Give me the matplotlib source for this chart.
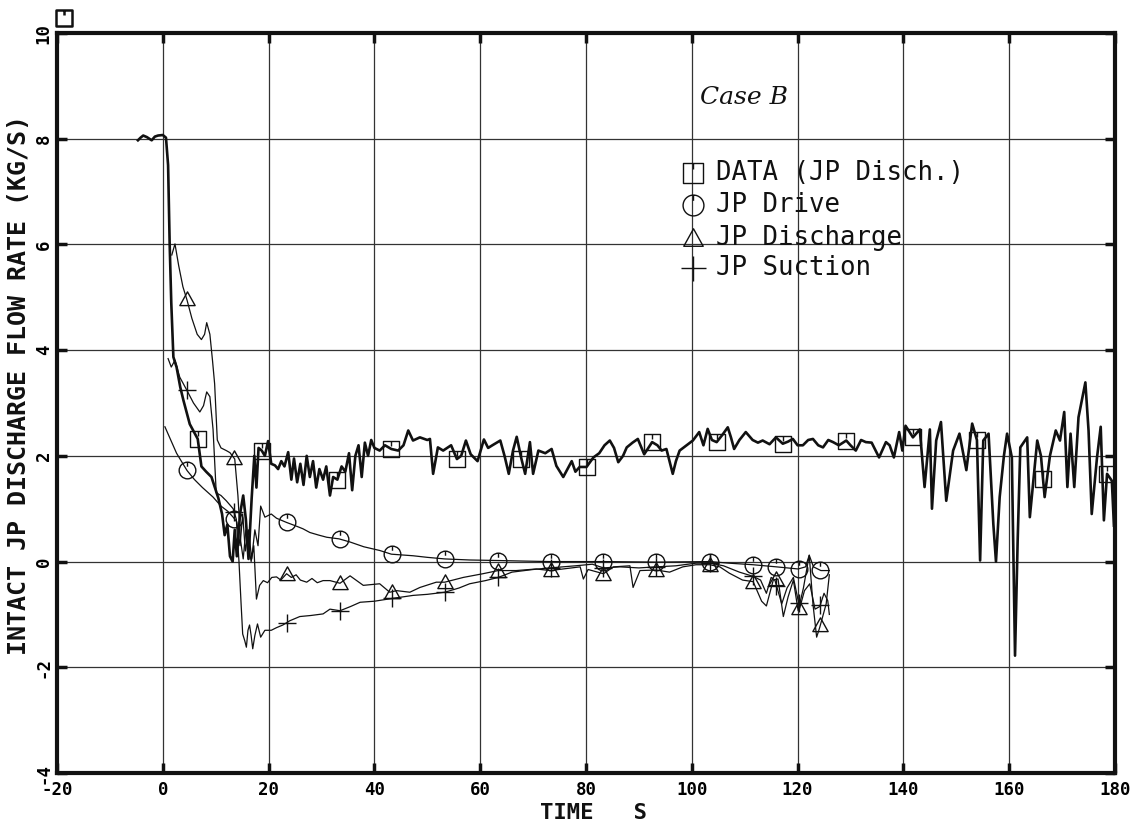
import numpy as np
import matplotlib
matplotlib.use("Agg")
import matplotlib.pyplot as plt
from matplotlib.path import Path

# ---- measured jet-pump discharge (thick line, square symbols) ----
data_t = [-4.7, -4.2, -3.7, -3.0, -2.1, -1.5, -0.9, 0.0, 0.6, 1.0, 1.3, 1.6, 2.0, 2.6, 3.3, 3.9, 5.1, 6.6,
          7.3, 8.2, 9.2, 10.5, 11.2, 11.7, 12.2, 12.7, 13.2, 13.6, 14.0, 14.6, 15.2, 15.7, 16.2, 16.8, 17.3,
          17.7, 18.1, 18.7, 19.3, 19.9, 20.5, 21.2, 21.8, 22.4, 23.0, 23.7, 24.3, 24.8, 25.4, 26.0, 26.6,
          27.2, 27.8, 28.4, 29.0, 29.6, 30.3, 30.9, 31.6, 32.2, 33.0, 33.8, 34.5, 35.2, 35.8, 36.4, 37.0,
          37.6, 38.2, 38.8, 39.4, 40.0, 41.0, 42.0, 43.2, 44.5, 45.5, 46.4, 47.3, 48.6, 50.0, 50.5, 51.1,
          52.0, 53.0, 54.5, 55.6, 56.4, 57.3, 58.2, 59.5, 60.7, 61.5, 62.3, 63.8, 64.6, 65.4, 66.2, 66.9,
          67.8, 68.5, 69.4, 70.0, 71.0, 72.3, 73.5, 74.4, 75.7, 76.5, 77.3, 78.0, 78.8, 80.1, 81.4, 82.5,
          83.5, 84.5, 85.3, 86.1, 87.0, 87.7, 88.8, 89.8, 91.0, 92.5, 93.5, 94.3, 95.2, 96.4, 97.0, 97.7,
          99.0, 100.2, 101.4, 102.2, 103.0, 103.8, 104.7, 105.8, 106.8, 107.4, 108.0, 109.0, 110.2, 111.5,
          112.5, 113.4, 114.7, 115.9, 117.2, 118.2, 119.1, 120.0, 121.0, 122.0, 122.9, 123.9, 124.8, 125.8,
          126.7, 127.8, 129.2, 130.0, 131.0, 132.0, 132.9, 134.0, 135.4, 136.7, 137.4, 138.2, 139.2, 139.8,
          140.4, 141.8, 143.1, 144.0, 145.0, 145.4, 146.2, 147.1, 148.1, 149.4, 150.6, 151.9, 153.0, 153.9,
          154.5, 155.1, 156.1, 157.0, 157.5, 158.2, 159.0, 159.6, 160.5, 161.1, 161.6, 162.1, 163.4, 163.9,
          165.3, 166.0, 166.7, 167.7, 168.8, 169.6, 170.4, 171.0, 171.6, 172.3, 173.1, 174.4, 175.0, 175.6,
          176.6, 177.3, 177.9, 178.5, 179.4, 179.8]
data_q = [7.97, 8.02, 8.06, 8.03, 7.97, 8.04, 8.06, 8.07, 8.02, 7.5, 6.0, 4.9, 3.87, 3.68, 3.3, 3.05, 2.6, 2.32,
          1.8, 1.7, 1.6, 1.2, 0.9, 0.5, 0.7, 0.1, 0.0, 0.6, 0.1, 0.9, 1.25, 0.8, 0.05, 1.2, 2.0,
          1.4, 2.15, 2.1, 2.0, 2.28, 1.85, 1.82, 1.75, 1.9, 1.8, 2.07, 1.55, 1.95, 1.5, 1.85, 1.45,
          2.0, 1.6, 1.9, 1.4, 1.75, 1.55, 1.8, 1.25, 1.6, 1.55, 1.8, 1.7, 2.05, 1.35, 2.0, 2.2,
          1.6, 2.25, 2.0, 2.3, 2.15, 2.1, 2.2, 2.13, 2.1, 2.2, 2.48, 2.29, 2.35, 2.3, 2.32, 1.66,
          2.16, 2.1, 2.2, 1.94, 2.0, 2.29, 2.03, 1.9, 2.31, 2.15, 2.2, 2.29, 2.0, 1.66, 2.1, 2.36,
          1.94, 1.66, 2.26, 1.66, 2.1, 2.05, 2.13, 1.81, 1.6, 1.75, 1.9, 1.7, 1.79, 1.79, 1.97, 2.05,
          2.2, 2.29, 2.15, 1.88, 2.0, 2.16, 2.25, 2.32, 2.03, 2.26, 2.2, 2.1, 2.13, 1.66, 1.9, 2.1,
          2.2, 2.29, 2.45, 2.2, 2.51, 2.3, 2.26, 2.4, 2.54, 2.35, 2.13, 2.3, 2.45, 2.3,
          2.25, 2.29, 2.22, 2.35, 2.23, 2.27, 2.32, 2.2, 2.2, 2.3, 2.32, 2.2, 2.16, 2.3,
          2.26, 2.2, 2.29, 2.2, 2.1, 2.3, 2.26, 2.25, 1.97, 2.26, 2.2, 1.97, 2.45, 2.1,
          2.57, 2.35, 2.5, 1.41, 2.5, 1.0, 2.29, 2.64, 1.15, 2.1, 2.42, 1.73, 2.61, 2.3,
          0.02, 2.29, 2.42, 0.71, 0.0, 1.22, 2.0, 2.42, 1.97, -1.78, 0.4, 2.16, 2.35, 0.84,
          2.29, 2.0, 1.22, 2.0, 2.48, 2.29, 2.83, 1.41, 2.42, 1.41, 2.73, 3.39, 2.48, 0.9,
          1.97, 2.55, 0.78, 1.66, 1.53, 0.68]
data_marks = [6.6, 18.7, 33.0, 43.2, 55.6, 67.8, 80.1, 92.5, 104.7, 117.2, 129.2, 141.8, 153.9, 166.4, 178.5]

# ---- calculated jet-pump drive flow (circles) ----
drive_t = [0.4, 1.5, 2.6, 3.5, 4.6, 6.0, 7.5, 9.5, 11.0, 12.3, 13.3, 14.0, 14.6, 15.1, 15.6, 16.2, 16.8,
           17.4, 18.0, 18.5, 19.3, 20.5, 21.5, 23.4, 25.0, 26.5, 27.8, 29.5, 31.0, 33.3, 35.4, 38.0, 41.0,
           43.2, 47.3, 50.0, 53.3, 58.0, 63.4, 68.0, 73.2, 83.3, 93.3, 103.4, 107.0, 111.6, 116.0, 120.1,
           121.5, 122.2, 123.0, 124.4, 126.0]
drive_q = [2.55, 2.3, 2.05, 1.9, 1.72, 1.55, 1.4, 1.22, 1.05, 0.95, 0.84, 0.75, 0.3, 0.9, 0.2, 0.6, 0.05,
           0.6, 0.3, 1.05, 0.84, 0.9, 0.82, 0.74, 0.68, 0.62, 0.55, 0.5, 0.46, 0.43, 0.37, 0.28, 0.21,
           0.14, 0.11, 0.08, 0.05, 0.03, 0.02, 0.01, 0.0, 0.0, -0.01, 0.0, -0.03, -0.06, -0.1, -0.14,
           -0.1, 0.12, -0.1, -0.17, -0.17]

# ---- calculated jet-pump discharge flow (triangles) ----
disch_t = [1.7, 2.3, 3.0, 3.8, 4.6, 5.5, 6.5, 7.3, 7.9, 8.3, 8.9, 9.4, 9.8, 10.3, 11.0, 12.0, 12.7, 13.6,
           14.2, 14.7, 15.2, 15.7, 16.2, 16.7, 17.2, 17.7, 18.3, 19.0, 19.8, 20.6, 21.5, 22.3, 23.4, 24.3,
           25.2, 26.0, 27.2, 28.2, 29.2, 30.3, 31.6, 33.5, 35.4, 37.9, 41.0, 42.9, 44.2, 46.7, 48.6, 51.7,
           53.3, 56.8, 60.5, 63.4, 66.8, 70.6, 73.2, 78.9, 79.5, 80.4, 83.3, 85.2, 88.3, 88.9, 90.2, 93.3,
           95.8, 98.3, 100.8, 103.4, 105.3, 107.1, 109.6, 111.6, 113.2, 114.1, 115.4, 116.3, 117.3, 118.2,
           119.2, 120.1, 121.1, 122.2, 122.9, 123.6, 124.2, 125.4, 126.0]
disch_q = [5.8, 6.01, 5.6, 5.2, 4.94, 4.6, 4.3, 4.2, 4.3, 4.52, 4.3, 3.8, 3.36, 2.3, 2.15, 2.1, 2.06, 1.94,
           1.25, 0.4, 0.05, 0.6, 0.3, 0.0, 0.3, -0.71, -0.45, -0.36, -0.4, -0.3, -0.29, -0.35, -0.23, -0.3,
           -0.25, -0.35, -0.39, -0.32, -0.4, -0.36, -0.36, -0.41, -0.27, -0.45, -0.42, -0.58, -0.55, -0.58,
           -0.49, -0.39, -0.39, -0.3, -0.23, -0.17, -0.17, -0.14, -0.17, -0.1, -0.33, -0.15, -0.23, -0.1,
           -0.08, -0.49, -0.17, -0.16, -0.2, -0.1, -0.06, -0.06, -0.1, -0.22, -0.35, -0.38, -0.75, -0.84,
           -0.35, -0.33, -1.04, -0.67, -0.35, -0.93, -0.5, 0.12, -0.8, -1.43, -1.24, -0.8, -0.25]

# ---- calculated jet-pump suction flow (plus signs) ----
suct_t = [1.0, 1.6, 2.3, 3.2, 4.5, 5.8, 7.0, 7.7, 8.3, 8.9, 9.5, 10.1, 11.0, 12.0, 13.3, 13.9, 14.4, 14.8,
          15.1, 15.5, 15.8, 16.1, 16.4, 16.7, 17.0, 17.4, 17.9, 18.5, 19.3, 20.5, 21.5, 22.7, 24.0, 25.9,
          28.0, 30.3, 31.6, 33.5, 35.5, 37.3, 40.0, 43.2, 47.3, 50.0, 53.3, 56.0, 58.0, 61.0, 63.4, 66.0,
          70.0, 73.2, 78.0, 81.2, 83.3, 86.4, 90.0, 93.3, 97.0, 100.8, 103.4, 106.0, 109.0, 111.6, 113.0,
          114.1, 115.0, 115.7, 117.0, 118.0, 119.2, 120.4, 121.3, 122.3, 123.3, 124.2, 125.0, 125.7, 126.0]
suct_q = [3.84, 3.68, 3.81, 3.49, 3.25, 3.0, 2.83, 2.95, 3.21, 3.12, 2.5, 1.3, 1.25, 1.15, 1.0, 0.8, 0.0, -0.8,
          -1.37, -1.5, -1.62, -1.3, -1.2, -1.4, -1.65, -1.4, -1.18, -1.43, -1.3, -1.3, -1.25, -1.2, -1.12, -1.04,
          -1.02, -0.99, -0.9, -0.93, -0.85, -0.77, -0.75, -0.7, -0.64, -0.62, -0.58, -0.5, -0.42, -0.36, -0.3, -0.2,
          -0.15, -0.12, -0.08, -0.05, -0.12, -0.1, -0.12, -0.1, -0.08, -0.03, -0.03, -0.08, -0.2, -0.28, -0.35,
          -0.6, -0.3, -0.35, -0.8, -0.5, -0.3, -0.88, -0.55, -0.42, -0.9, -0.85, -0.6, -0.74, -1.0]

calc_marks = [4.5, 13.5, 23.4, 33.5, 43.3, 53.3, 63.4, 73.3, 83.3, 93.3, 103.4, 111.6, 116.0, 120.2, 124.3]

x_ticks = [-20, 0, 20, 40, 60, 80, 100, 120, 140, 160, 180]
y_ticks = [-4, -2, 0, 2, 4, 6, 8, 10]

legend_labels = ["DATA (JP Disch.)", "JP Drive", "JP Discharge", "JP Suction"]

# plotter-style symbols: open shapes with a short stroke from the top
def notched(base, notch_len=0.55):
    tick = Path([(0, 1.0), (0, 1.0 - notch_len)], [Path.MOVETO, Path.LINETO])
    return Path.make_compound_path(base, tick)

square_sym = notched(Path([(-1, -1), (1, -1), (1, 1), (-1, 1), (-1, -1)],
                          [Path.MOVETO, Path.LINETO, Path.LINETO, Path.LINETO, Path.CLOSEPOLY]))
circle_sym = notched(Path.unit_circle())
tri_sym = Path([(-1, -0.8), (1, -0.8), (0, 1), (-1, -0.8)],
               [Path.MOVETO, Path.LINETO, Path.LINETO, Path.CLOSEPOLY])

W, H = 1134, 825
fig = plt.figure(figsize=(W / 100, H / 100), dpi=100)
L, R, T, B = 57, 1115, 33, 773
ax = fig.add_axes([L / W, 1 - B / H, (R - L) / W, (B - T) / H])

ink = "#111111"
ax.plot(data_t, data_q, color=ink, lw=1.9, zorder=3)
for t, q in ((drive_t, drive_q), (disch_t, disch_q), (suct_t, suct_q)):
    ax.plot(t, q, color=ink, lw=0.9, zorder=3)

sym_kw = dict(ls="none", mfc="none", mec=ink, mew=1.0, zorder=4)
ax.plot(data_marks, np.interp(data_marks, data_t, data_q), marker=square_sym, ms=11, **sym_kw)
ax.plot(calc_marks, np.interp(calc_marks, drive_t, drive_q), marker=circle_sym, ms=12, **sym_kw)
ax.plot(calc_marks, np.interp(calc_marks, disch_t, disch_q), marker=tri_sym, ms=11, **sym_kw)
ax.plot(calc_marks, np.interp(calc_marks, suct_t, suct_q), marker="+", ms=13, ls="none",
        mec=ink, mew=1.0, zorder=4)

ax.set_xlim(-20, 180)
ax.set_ylim(-4, 10)
ax.set_xticks(x_ticks)
ax.set_yticks(y_ticks)
tick_font = dict(family="DejaVu Sans Mono", weight="bold", size=12.5)
ax.set_xticklabels([str(v) for v in x_ticks], fontdict=tick_font)
ax.set_yticklabels([str(v) for v in y_ticks], fontdict=tick_font, rotation=90, va="center")
ax.tick_params(direction="in", length=7, width=2.5, top=True, right=True, color=ink)
ax.tick_params(axis="x", pad=6)
ax.tick_params(axis="y", pad=3)
ax.grid(True, color="#333333", lw=0.9)
for sp in ax.spines.values():
    sp.set_linewidth(3.0)
    sp.set_color(ink)

# axis titles, placed on the figure
label_font = dict(family="DejaVu Sans Mono", weight="bold", color=ink)
fig.text(593 / W, 1 - 813 / H, "TIME   S", size=16, ha="center", va="center", **label_font)
fig.text(19 / W, 1 - 385 / H, "INTACT JP DISCHARGE FLOW RATE (KG/S)", size=18, rotation=90,
         ha="center", va="center", **label_font)

# symbol key
key_rows = [173, 205, 238, 268]
key_syms = [(square_sym, 14), (circle_sym, 15), (tri_sym, 14), ("+", 18)]
for (sym, ms), row, text in zip(key_syms, key_rows, legend_labels):
    fig.lines.append(plt.Line2D([693 / W], [1 - row / H], transform=fig.transFigure, marker=sym,
                                ms=ms, mfc="none", mec=ink, mew=1.0, ls="none"))
    fig.text(716 / W, 1 - row / H, text, family="DejaVu Sans Mono", size=18.5,
             va="center", ha="left", color=ink)

fig.text(700 / W, 1 - 97 / H, "Case B", family="DejaVu Serif", style="italic", size=18,
         va="center", ha="left", color=ink)

# frame identifier box at the upper-left corner
fig.lines.append(plt.Line2D([64 / W], [1 - 18 / H], transform=fig.transFigure, marker=square_sym,
                            ms=11, mfc="none", mec=ink, mew=1.8, ls="none"))

fig.savefig("out.png", dpi=100, facecolor="white")
